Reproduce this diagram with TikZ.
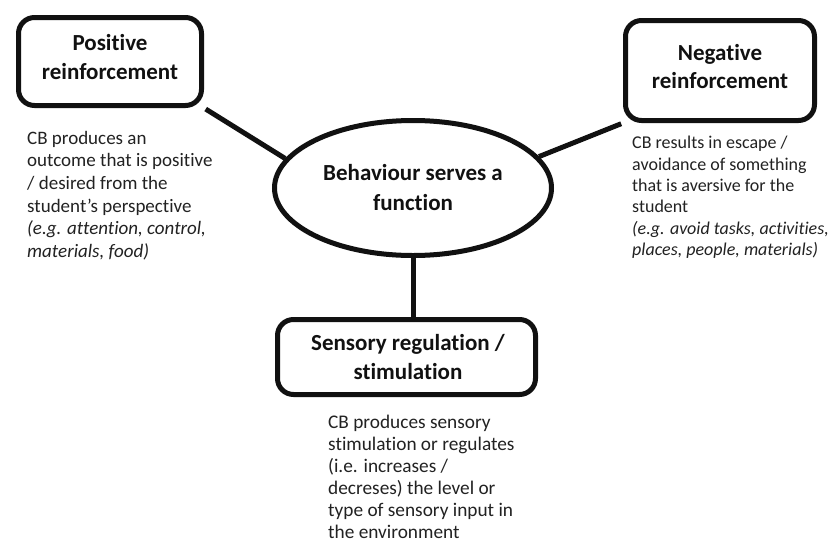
\documentclass[tikz,border=0pt]{standalone}
\usepackage{fontspec}
\setmainfont{Carlito}[Ligatures={TeX,NoCommon}]
\usetikzlibrary{shapes.geometric}
\definecolor{ink}{HTML}{111111}
\definecolor{bodyink}{HTML}{222222}
\tikzset{
  box/.style={draw=ink, line width=5pt, rounded corners=16pt, inner sep=0pt},
  title/.style={inner sep=0pt, align=center, text=ink,
    font=\fontsize{23}{29}\selectfont\bfseries},
  hub/.style={ellipse, draw=ink, line width=5pt, inner sep=0pt,
    align=center, text=ink, font=\fontsize{23}{30}\selectfont\bfseries},
  note/.style={align=left, inner sep=0pt, anchor=north west, text=bodyink},
  link/.style={draw=ink, line width=5pt},
}
\begin{document}
\begin{tikzpicture}[x=1pt,y=-1pt]
  \fill[white] (0,0) rectangle (830,544);
  \useasboundingbox (0,0) rectangle (830,544);

  % central idea
  \node[hub, minimum width=277pt, minimum height=135pt] (hub) at (413,188)
    {Behaviour serves a\\function};

  % the three functions: frames, then their titles
  \node[box, minimum width=183pt, minimum height=88pt] (pos) at (110,61.5) {};
  \node[title] (postitle) at (110,57.5) {Positive\\reinforcement};
  \node[box, minimum width=189pt, minimum height=100pt] (neg) at (720,70.5) {};
  \node[title, font=\fontsize{23}{27.5}\selectfont\bfseries] (negtitle) at (720,66.5)
    {Negative\\reinforcement};
  \node[box, minimum width=258pt, minimum height=75pt] (sens) at (406.5,357) {};
  \node[title] (senstitle) at (408,357.5) {Sensory regulation /\\stimulation};

  % connectors
  \draw[link, shorten <=2pt] (pos.south east) -- (hub.167);
  \draw[link, shorten <=2pt] (neg.south west) -- (hub.14);
  \draw[link] (hub.south) -- (hub.south |- sens.north);

  % explanations
  \node[note, font=\fontsize{19}{22.6}\selectfont] (posnote) at (27,131)
    {CB produces an\\outcome that is positive\\/ desired from the\\student's perspective\\
     \textit{(e.g. attention, control,}\\\textit{materials, food)}};
  \node[note, font=\fontsize{18}{21.4}\selectfont] (negnote) at (632,136)
    {CB results in escape /\\avoidance of something\\that is aversive for the\\student\\
     \textit{(e.g. avoid tasks, activities,}\\\textit{places, people, materials)}};
  \node[note, font=\fontsize{19.3}{22}\selectfont] (sensnote) at (328,415)
    {CB produces sensory\\stimulation or regulates\\(i.e. increases /\\decreses) the level or\\
     type of sensory input in\\the environment};
\end{tikzpicture}
\end{document}
